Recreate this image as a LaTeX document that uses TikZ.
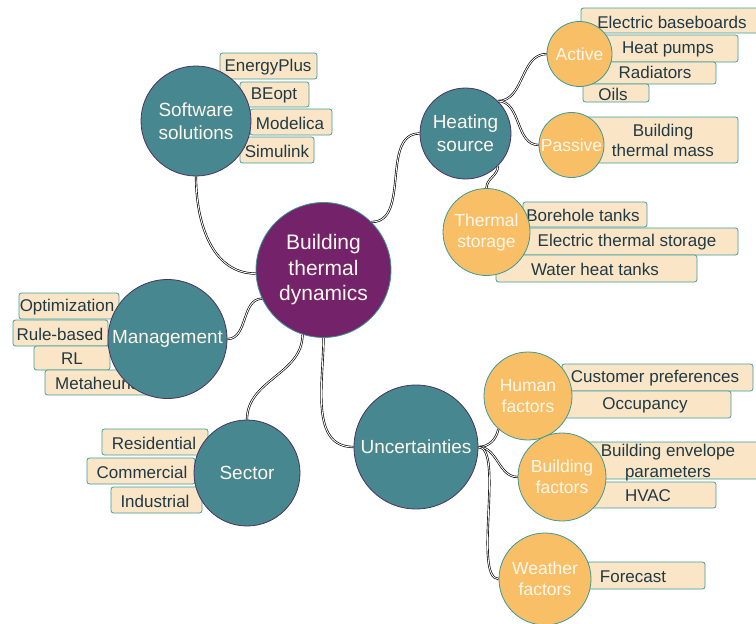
\documentclass[tikz,border=0pt]{standalone}
\usepackage{fontspec}
\setmainfont{Liberation Sans}
\definecolor{hubfill}{HTML}{74236A}
\definecolor{topicfill}{HTML}{468790}
\definecolor{topicline}{HTML}{4B3260}
\definecolor{subfill}{HTML}{F9BF66}
\definecolor{ringline}{HTML}{3A9A96}
\definecolor{leaffill}{HTML}{FBE5C7}
\definecolor{leafline}{HTML}{3F9E9B}
\definecolor{leaftext}{HTML}{1F3A44}
\definecolor{circtext}{HTML}{FFF8EE}
\begin{document}
\begin{tikzpicture}[x=1pt, y=-1pt,
	hub/.style={circle, draw=ringline, line width=.8pt, fill=hubfill, text=circtext, inner sep=0pt, align=center, font=\fontsize{21}{25.5}\selectfont},
	topic/.style={circle, draw=topicline, line width=.8pt, fill=topicfill, text=circtext, inner sep=0pt, align=center, font=\fontsize{19}{23}\selectfont},
	sub/.style={circle, draw=ringline, line width=.8pt, fill=subfill, text=circtext, inner sep=0pt, align=center, font=\fontsize{17.5}{21}\selectfont},
	leaf/.style={draw=leafline, line width=.8pt, fill=leaffill, rounded corners=2.5pt, text=leaftext, font=\fontsize{17}{20.5}\selectfont, every node/.append style={yshift=-1.5pt}},
	branch/.style={draw=black, double=white, double distance=.9pt, line width=.65pt}]
	\clip (0,0) rectangle (756,624);
	%Blaetter
	\filldraw[leaf] (220,53)  rectangle (317,79)  (268,66)  node (energyplus) {EnergyPlus};
	\filldraw[leaf] (240,82)  rectangle (309,107) (274,94)  node (beopt)      {BEopt};
	\filldraw[leaf] (250,109) rectangle (332,135) (290,122) node (modelica)   {Modelica};
	\filldraw[leaf] (240,137) rectangle (314,163) (277,150) node (simulink)   {Simulink};
	\filldraw[leaf] (581,8)   rectangle (762,33)  (672,21)  node (elbase)     {Electric baseboards};
	\filldraw[leaf] (580,35)  rectangle (738,62)  (668,48)  node (heatpumps)  {Heat pumps};
	\filldraw[leaf] (580,62)  rectangle (716,84)  (655,71)  node (radiators)  {Radiators};
	\filldraw[leaf] (583,84)  rectangle (649,102) (613,93)  node (oils)       {Oils};
	\filldraw[leaf] (560,117) rectangle (738,163) (663,139) node[align=center] (thmass) {Building\\thermal mass};
	\filldraw[leaf] (523,202) rectangle (647,227) (583,214) node (borehole)   {Borehole tanks};
	\filldraw[leaf] (515,228) rectangle (738,255) (627,241) node (elstorage)  {Electric thermal storage};
	\filldraw[leaf] (496,255) rectangle (697,282) (595,268) node (watertanks) {Water heat tanks};
	\filldraw[leaf] (19,293)  rectangle (119,319) (67,306)  node (optim)      {Optimization};
	\filldraw[leaf] (13,320)  rectangle (108,346) (60,333)  node (rulebased)  {Rule-based};
	\filldraw[leaf] (34,346)  rectangle (110,370) (72,357)  node (rl)         {RL};
	\filldraw[leaf] (45,370)  rectangle (160,395) (110,382) node (metaheur)   {Metaheuristics};
	\filldraw[leaf] (102,429) rectangle (208,455) (154,442) node (residential){Residential};
	\filldraw[leaf] (87,458)  rectangle (195,484) (142,471) node (commercial) {Commercial};
	\filldraw[leaf] (111,487) rectangle (202,513) (155,500) node (industrial) {Industrial};
	\filldraw[leaf] (562,364) rectangle (753,391) (655,377) node (custpref)   {Customer preferences};
	\filldraw[leaf] (560,391) rectangle (731,418) (645,404) node (occupancy)  {Occupancy};
	\filldraw[leaf] (580,442) rectangle (762,479) (668,461) node[align=center] (envelope) {Building envelope\\parameters};
	\filldraw[leaf] (580,482) rectangle (716,508) (648,494) node (hvac)       {HVAC};
	\filldraw[leaf] (587,562) rectangle (705,589) (633,575) node (forecast)   {Forecast};
	%Kreise
	\node[hub, minimum size=135pt]   (btd)     at (323.5,270)   {Building\\thermal\\dynamics};
	\node[topic, minimum size=110pt] (soft)    at (196,121)     {Software\\solutions};
	\node[topic, minimum size=91pt]  (heat)    at (465.5,133.5) {Heating\\source};
	\node[topic, minimum size=119pt] (mgmt)    at (167.5,339)   {Management};
	\node[topic, minimum size=106pt] (sector)  at (247,473)     {Sector};
	\node[topic, minimum size=124pt] (unc)     at (416,447)     {Uncertainties};
	\node[sub, minimum size=65pt]    (active)  at (579.5,54)    {Active};
	\node[sub, minimum size=65pt]    (passive) at (571.5,145)   {Passive};
	\node[sub, minimum size=87pt]    (tstore)  at (486.5,232)   {Thermal\\storage};
	\node[sub, minimum size=88pt]    (human)   at (528,396)     {Human\\factors};
	\node[sub, minimum size=88pt]    (bfact)   at (562,477)     {Building\\factors};
	\node[sub, minimum size=92pt]    (weather) at (545,579)     {Weather\\factors};
	%Verbindungen
	\draw[branch] (btd.183) to[out=180, in=-90] (soft.south);
	\draw[branch] (btd.45)  to[out=0, in=180] (heat.west);
	\draw[branch] (btd.205) to[out=180, in=0] (mgmt.east);
	\draw[branch] (btd.252) to[out=-90, in=90] (sector.north);
	\draw[branch] (btd.south) to[out=-90, in=180] (unc.west);
	\draw[branch] (heat.45) to[out=0, in=180] (active.west);
	\draw[branch] (heat.45) to[out=0, in=180] (passive.west);
	\draw[branch] (heat.-45) to[out=-90, in=90] (tstore.north);
	\draw[branch] (unc.east) to[out=0, in=-100] (human.228);
	\draw[branch] (unc.east) to[out=0, in=180] (bfact.west);
	\draw[branch] (unc.east) to[out=0, in=180, looseness=.5] (weather.west);
\end{tikzpicture}
\end{document}
